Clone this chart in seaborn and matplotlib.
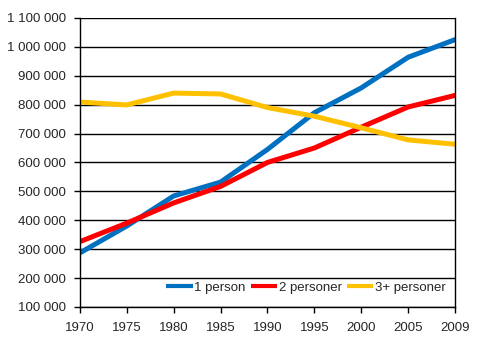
import matplotlib
matplotlib.use("Agg")
import matplotlib.pyplot as plt
import pandas as pd
import seaborn as sns
from matplotlib.ticker import FuncFormatter

YEARS = ["1970", "1975", "1980", "1985", "1990", "1995", "2000", "2005", "2009"]
ONE_PERSON = [287000, 380000, 484000, 532000, 645000, 772000, 858000, 964000, 1025000]
TWO_PERSONS = [326000, 390000, 460000, 517000, 600000, 650000, 722000, 792000, 832000]
THREE_PLUS = [809000, 799000, 840000, 837000, 790000, 760000, 720000, 678000, 663000]

SERIES_NAMES = ["1 person", "2 personer", "3+ personer"]
COLORS = ["#0070C0", "#FF0000", "#FFC000"]


def build_frame() -> pd.DataFrame:
    rows = []
    for name, values in zip(SERIES_NAMES, [ONE_PERSON, TWO_PERSONS, THREE_PLUS]):
        for i, (year, v) in enumerate(zip(YEARS, values)):
            rows.append({"pos": i, "year": year, "households": v, "series": name})
    return pd.DataFrame(rows)


def main() -> None:
    sns.set_theme(style="white")
    plt.rcParams["font.family"] = ["Liberation Sans", "DejaVu Sans"]

    df = build_frame()
    fig = plt.figure(figsize=(4.93, 3.59), dpi=100)
    ax = fig.add_axes([0.162, 0.145, 0.761, 0.805])

    sns.lineplot(
        data=df, x="pos", y="households", hue="series",
        palette=COLORS, hue_order=SERIES_NAMES,
        linewidth=3.6, ax=ax, legend=True,
    )
    for line in ax.get_lines():
        line.set_solid_joinstyle("round")

    ax.set_xlim(0, len(YEARS) - 1)
    ax.set_ylim(100000, 1100000)
    ax.set_xticks(range(len(YEARS)))
    ax.set_xticklabels(YEARS)
    ax.set_yticks(range(100000, 1100001, 100000))
    ax.yaxis.set_major_formatter(
        FuncFormatter(lambda v, _: f"{int(v):,}".replace(",", " "))
    )
    ax.grid(axis="y", color="black", linewidth=1)
    ax.grid(axis="x", visible=False)
    ax.set_axisbelow(True)
    for side in ["left", "bottom", "right"]:
        ax.spines[side].set_color("black")
        ax.spines[side].set_linewidth(1)
    ax.spines["top"].set_visible(False)
    ax.tick_params(axis="both", which="major", length=4, width=1,
                   color="black", labelsize=9.5, direction="out",
                   left=True, bottom=True)
    ax.tick_params(axis="x", pad=7)
    ax.tick_params(axis="y", pad=6)
    ax.set_xlabel("")
    ax.set_ylabel("")

    leg = ax.legend(loc="center right", ncol=3, frameon=False, fontsize=9.5,
                    handlelength=2.0, handletextpad=0.12, columnspacing=0.4,
                    borderaxespad=0.3, bbox_to_anchor=(1.0, 0.066))
    for h in leg.get_lines():
        h.set_linewidth(3.0)
        h.set_solid_capstyle("butt")

    fig.savefig("out.png", dpi=100)
    plt.close(fig)


if __name__ == "__main__":
    main()
